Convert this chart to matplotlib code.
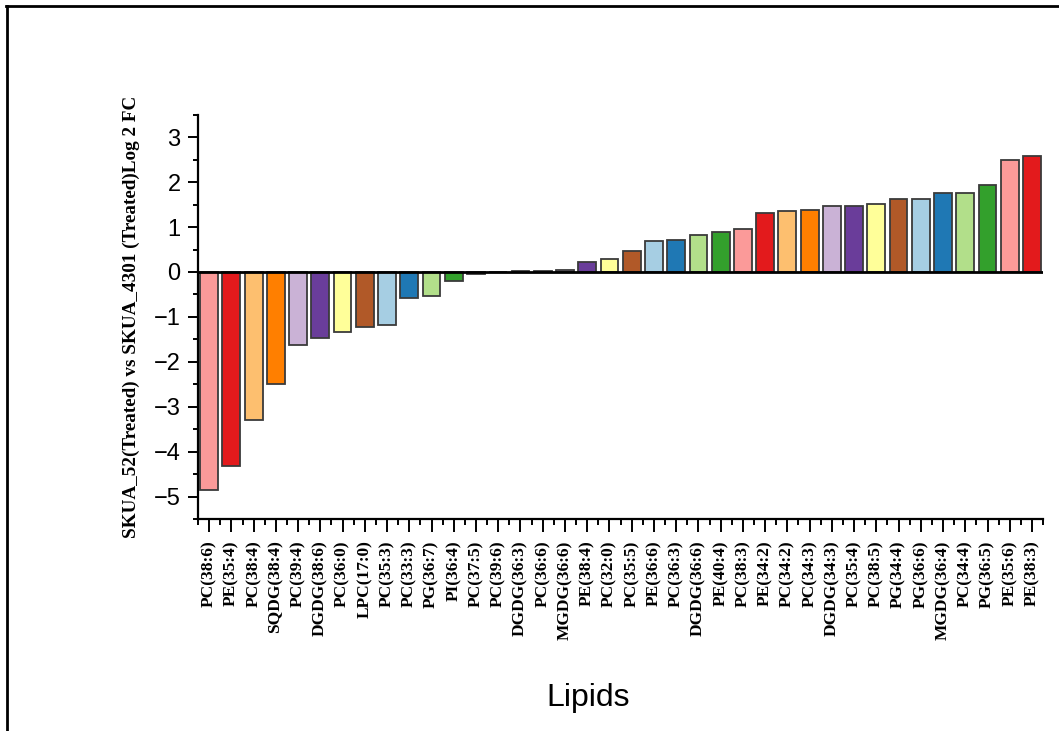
import matplotlib.pyplot as plt
import numpy as np
from matplotlib.lines import Line2D
from matplotlib.ticker import MultipleLocator

lipids = ["PC(38:6)", "PE(35:4)", "PC(38:4)", "SQDG(38:4)", "PC(39:4)", "DGDG(38:6)",
          "PC(36:0)", "LPC(17:0)", "PC(35:3)", "PC(33:3)", "PG(36:7)", "PI(36:4)",
          "PC(37:5)", "PC(39:6)", "DGDG(36:3)", "PC(36:6)", "MGDG(36:6)", "PE(38:4)",
          "PC(32:0)", "PC(35:5)", "PE(36:6)", "PC(36:3)", "DGDG(36:6)", "PE(40:4)",
          "PC(38:3)", "PE(34:2)", "PC(34:2)", "PC(34:3)", "DGDG(34:3)", "PC(35:4)",
          "PC(38:5)", "PG(34:4)", "PG(36:6)", "MGDG(36:4)", "PC(34:4)", "PG(36:5)",
          "PE(35:6)", "PE(38:3)"]

log2fc = [-4.86, -4.31, -3.29, -2.50, -1.63, -1.47, -1.33, -1.23, -1.17, -0.59,
          -0.54, -0.19, -0.04, 0.01, 0.02, 0.03, 0.04, 0.22, 0.28, 0.46,
          0.69, 0.72, 0.83, 0.89, 0.96, 1.32, 1.35, 1.39, 1.46, 1.47,
          1.51, 1.62, 1.62, 1.75, 1.76, 1.93, 2.50, 2.59]

# Paired palette, starting from the pink/red pair
palette = ["#fb9a99", "#e31a1c", "#fdbf6f", "#ff7f00", "#cab2d6", "#6a3d9a",
           "#ffff99", "#b15928", "#a6cee3", "#1f78b4", "#b2df8a", "#33a02c"]

serif = "Liberation Serif"
sans = "Liberation Sans"

fig = plt.figure(figsize=(10.59, 7.31), dpi=100)
ax = fig.add_axes([0.187, 0.290, 0.798, 0.553])

x = np.arange(1, len(lipids) + 1)
colors = [palette[i % len(palette)] for i in range(len(lipids))]
ax.bar(x, log2fc, width=0.8, color=colors, edgecolor="#3a3a3a", linewidth=1.3, zorder=2)
ax.axhline(0, color="black", linewidth=2, zorder=3)

ax.set_xlim(0.5, 38.5)
ax.set_ylim(-5.5, 3.5)
ax.set_xticks(x)
ax.set_xticklabels(lipids, rotation=90, fontfamily=serif, fontweight="bold", fontsize=12.5)
ax.xaxis.set_minor_locator(MultipleLocator(1, offset=0.5))
ax.yaxis.set_major_locator(MultipleLocator(1))
ax.yaxis.set_minor_locator(MultipleLocator(0.5))
for lab in ax.get_yticklabels():
    lab.set_fontfamily(sans)
    lab.set_fontsize(17)

ax.tick_params(axis="y", which="major", length=7.5, width=1.4, pad=5)
ax.tick_params(axis="y", which="minor", length=3.5, width=1.4)
ax.tick_params(axis="x", which="major", length=9.5, width=1.4, pad=6)
ax.tick_params(axis="x", which="minor", length=4, width=1.4)

for side in ["top", "right"]:
    ax.spines[side].set_visible(False)
for side in ["left", "bottom"]:
    ax.spines[side].set_linewidth(1.6)

ax.set_ylabel("SKUA_52(Treated) vs SKUA_4301 (Treated)Log 2 FC",
              fontfamily=serif, fontweight="bold", fontsize=13.8, labelpad=10)

fig.text(0.555, 0.034, "Lipids", fontfamily=sans, fontsize=23, ha="center", va="baseline")

# outer frame lines along top and left edges
fig.add_artist(Line2D([0.006, 1.0], [0.992, 0.992], color="black", linewidth=2,
                      transform=fig.transFigure))
fig.add_artist(Line2D([0.007, 0.007], [0.0, 0.992], color="black", linewidth=2,
                      transform=fig.transFigure))

fig.savefig("out.png", dpi=100)
